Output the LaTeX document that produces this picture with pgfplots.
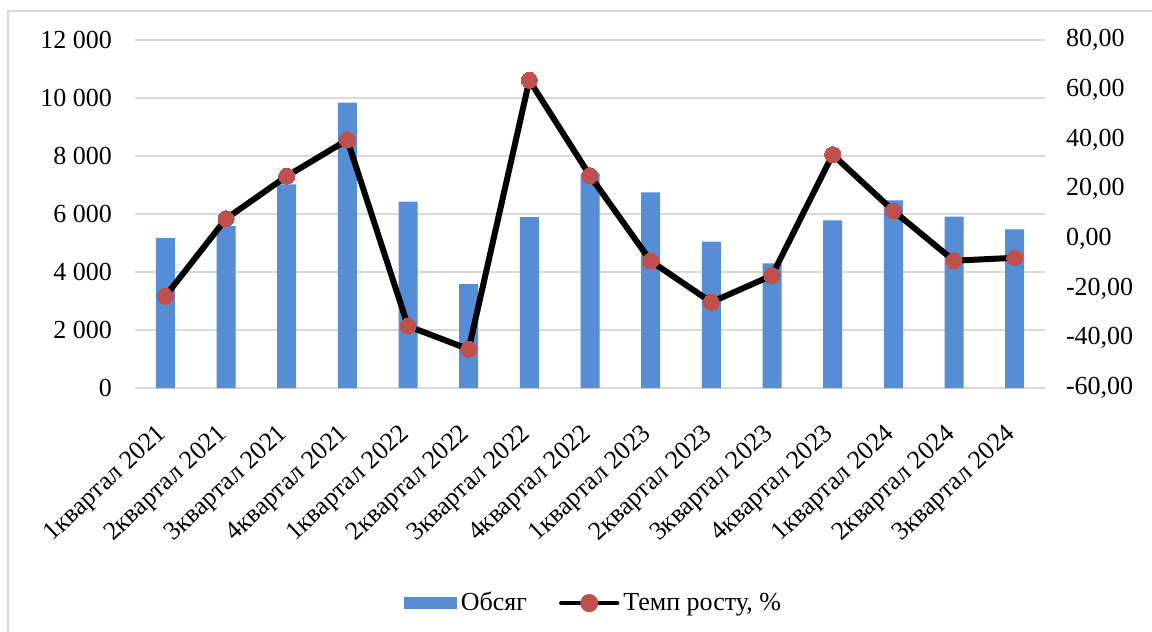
\documentclass[border=0pt]{standalone}
\usepackage{fontspec}
\setmainfont{Liberation Serif}
\usepackage{pgfplots}
\pgfplotsset{compat=1.18}
\definecolor{barblue}{HTML}{558ED5}
\definecolor{mred}{HTML}{C0504D}
\definecolor{gridgray}{HTML}{D9D9D9}
\pgfplotsset{
  common/.style={
    scale only axis, width=455pt, height=174pt,
    at={(67.5pt,-194pt)}, anchor=south west,
    xmin=-0.5, xmax=14.5,
    axis line style={draw=none},
    major tick length=0pt,
    scaled y ticks=false,
    /pgf/number format/assume math mode=true,
    tick label style={font=\fontsize{13}{15}\selectfont},
  }
}
\begin{document}
\begin{tikzpicture}
\useasboundingbox (0,0) rectangle (576pt,-316pt);
\draw[gridgray, line width=0.7pt] (4pt,-330pt) -- (4pt,-5.5pt) -- (590pt,-5.5pt);
\begin{axis}[common,
  ymin=0, ymax=12000,
  ytick={0,2000,4000,6000,8000,10000,12000},
  yticklabels={0,2 000,4 000,6 000,8 000,10 000,12 000},
  yticklabel style={anchor=east, xshift=-8pt},
  ymajorgrids, grid style={gridgray, line width=0.7pt},
  xtick={0,...,14},
  xticklabels={1квартал 2021,2квартал 2021,3квартал 2021,4квартал 2021,1квартал 2022,2квартал 2022,3квартал 2022,4квартал 2022,1квартал 2023,2квартал 2023,3квартал 2023,4квартал 2023,1квартал 2024,2квартал 2024,3квартал 2024},
  xticklabel style={xshift=1.5pt, yshift=-19pt, rotate=43, anchor=east},
  ybar, bar width=9.5pt,
]
\addplot[fill=barblue, draw=none] coordinates {
(0,5170) (1,5590) (2,7020) (3,9840) (4,6430) (5,3580) (6,5890) (7,7400)
(8,6750) (9,5050) (10,4300) (11,5780) (12,6470) (13,5910) (14,5470)};
\end{axis}
\begin{axis}[common,
  ymin=-60, ymax=80,
  ytick={-60,-40,-20,0,20,40,60,80},
  yticklabels={{-60,00},{-40,00},{-20,00},{0,00},{20,00},{40,00},{60,00},{80,00}},
  yticklabel pos=right,
  yticklabel style={anchor=west, xshift=7pt},
  xtick=\empty,
  legend style={at={(0.505,-0.618)}, anchor=center, draw=none, fill=none,
    legend columns=2, font=\fontsize{13}{15}\selectfont,
    /tikz/every even column/.append style={column sep=14pt},
    inner sep=0pt},
  legend cell align=left,
]
\addlegendimage{legend image code/.code={\fill[barblue] (0pt,-2.8pt) rectangle (26pt,2.8pt);}}
\addlegendentry{Обсяг}
\addplot[black, line width=3pt, mark=*, mark size=4pt,
  mark options={fill=mred, draw=mred, line width=0pt},
  legend image code/.code={\draw[black, line width=2.2pt, line cap=round] (0pt,0pt) -- (28pt,0pt);
    \fill[mred] (14pt,0pt) circle (3pt);}]
coordinates {
(0,-23.1) (1,8.1) (2,25.2) (3,39.8) (4,-35.1) (5,-44.4) (6,63.8) (7,25.4)
(8,-8.9) (9,-25.5) (10,-14.7) (11,33.9) (12,11.3) (13,-8.8) (14,-7.6)};
\addlegendentry{Темп росту, \%}
\end{axis}
\end{tikzpicture}
\end{document}
